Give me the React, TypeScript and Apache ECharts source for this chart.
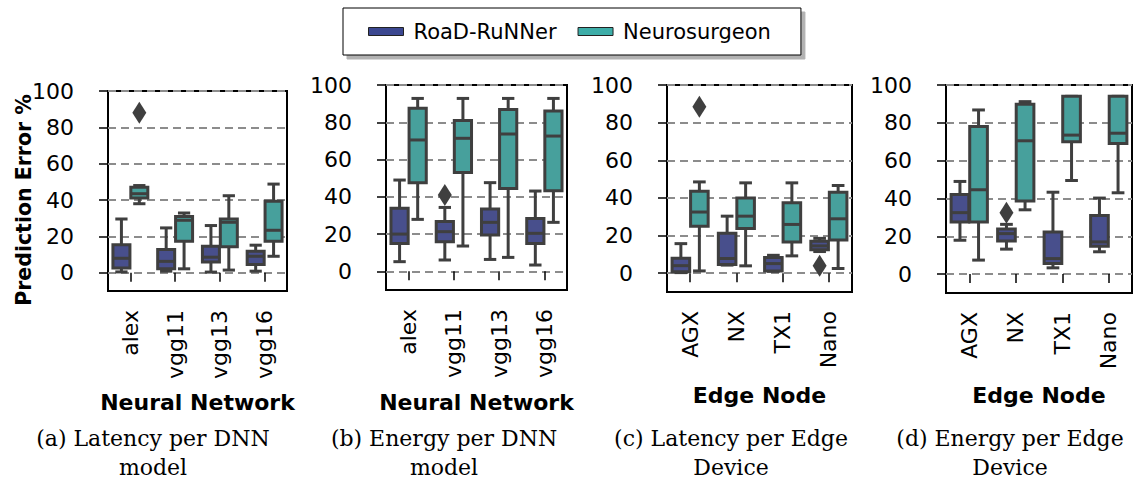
import { useEffect, useRef } from 'react';
import * as echarts from 'echarts';

// Categories
const dnnModels = ['alex', 'vgg11', 'vgg13', 'vgg16'];
const edgeNodes = ['AGX', 'NX', 'TX1', 'Nano'];
const yTicks = [0, 20, 40, 60, 80, 100];

// Box statistics per category: [lower whisker, Q1, median, Q3, upper whisker]
const latencyDnnRoad = [
  [0.5, 2.7, 8.0, 15.5, 29.6],
  [0.9, 2.2, 6.3, 12.8, 24.7],
  [0.4, 5.9, 8.6, 14.6, 26.0],
  [0.9, 4.6, 9.1, 11.9, 15.2],
];
const latencyDnnNeuro = [
  [38.0, 41.1, 43.5, 47.0, 48.0],
  [2.2, 17.4, 28.9, 31.0, 32.9],
  [1.5, 14.3, 27.8, 29.6, 42.4],
  [9.1, 17.4, 23.4, 39.3, 48.8],
];
const energyDnnRoad = [
  [5.2, 15.0, 20.0, 33.8, 49.0],
  [6.1, 15.9, 21.3, 26.7, 34.3],
  [6.4, 19.5, 26.3, 33.5, 47.6],
  [3.4, 15.0, 20.4, 28.4, 43.1],
];
const energyDnnNeuro = [
  [27.9, 47.6, 70.5, 87.5, 92.8],
  [13.6, 53.1, 71.4, 80.9, 92.8],
  [7.5, 44.5, 73.7, 86.9, 92.8],
  [26.3, 43.3, 72.6, 86.0, 92.8],
];
const latencyEdgeRoad = [
  [0.3, 0.8, 4.0, 7.9, 15.7],
  [4.3, 4.6, 7.8, 21.2, 30.3],
  [1.0, 1.2, 5.1, 8.3, 9.5],
  [11.5, 12.5, 14.5, 17.0, 18.5],
];
const latencyEdgeNeuro = [
  [1.2, 25.0, 32.5, 43.6, 48.5],
  [3.9, 23.8, 30.3, 40.0, 48.0],
  [9.2, 16.6, 25.9, 37.4, 48.0],
  [2.5, 17.6, 28.9, 43.0, 46.6],
];
const energyEdgeRoad = [
  [17.9, 27.5, 32.5, 42.1, 49.0],
  [13.2, 17.5, 21.4, 23.9, 26.3],
  [3.3, 5.6, 8.2, 22.3, 43.3],
  [11.8, 14.7, 17.0, 31.0, 40.2],
];
const energyEdgeNeuro = [
  [7.4, 27.5, 44.6, 78.0, 86.8],
  [34.0, 38.6, 70.5, 89.8, 91.2],
  [49.5, 70.0, 73.5, 94.0, 94.0],
  [43.0, 69.0, 74.5, 94.0, 94.0],
];

// Fliers: [category index, value]
const latencyDnnRoadFliers: number[][] = [];
const latencyDnnNeuroFliers = [[0, 88]];
const energyDnnRoadFliers = [[1, 41]];
const energyDnnNeuroFliers: number[][] = [];
const latencyEdgeRoadFliers = [[3, 4]];
const latencyEdgeNeuroFliers = [[0, 88.5]];
const energyEdgeRoadFliers = [[1, 32.5]];
const energyEdgeNeuroFliers: number[][] = [];

const ROAD = 'RoaD-RuNNer';
const NEURO = 'Neurosurgeon';

const EDGE = '#3f3f3f';
const ROAD_FILL = '#484f8c';
const NEURO_FILL = '#47a09c';
const ROAD_PATCH = '#3b4790';
const NEURO_PATCH = '#3dada8';
const FONT = 'DejaVu Sans';

const makeBoxRenderer = (side: number, fill: string) => (_params: any, api: any) => {
  const cat = api.value(0);
  const band = api.size([1, 0])[0];
  const cx = api.coord([cat, 0])[0] + side * band * 0.2;
  const w = band * 0.38;
  const capW = w * 0.72;
  const y = (v: number) => api.coord([cat, v])[1];
  const lo = y(api.value(1));
  const q1 = y(api.value(2));
  const med = y(api.value(3));
  const q3 = y(api.value(4));
  const hi = y(api.value(5));
  const line = { stroke: EDGE, lineWidth: 3 };
  return {
    type: 'group',
    children: [
      { type: 'line', shape: { x1: cx, y1: hi, x2: cx, y2: q3 }, style: line },
      { type: 'line', shape: { x1: cx, y1: q1, x2: cx, y2: lo }, style: line },
      { type: 'line', shape: { x1: cx - capW / 2, y1: hi, x2: cx + capW / 2, y2: hi }, style: line },
      { type: 'line', shape: { x1: cx - capW / 2, y1: lo, x2: cx + capW / 2, y2: lo }, style: line },
      {
        type: 'rect',
        shape: { x: cx - w / 2, y: q3, width: w, height: q1 - q3 },
        style: { fill, stroke: EDGE, lineWidth: 3 },
      },
      { type: 'line', shape: { x1: cx - w / 2, y1: med, x2: cx + w / 2, y2: med }, style: line },
    ],
  };
};

const makeFlierRenderer = (side: number) => (_params: any, api: any) => {
  const cat = api.value(0);
  const band = api.size([1, 0])[0];
  const p = api.coord([cat, api.value(1)]);
  const cx = p[0] + side * band * 0.2;
  const cy = p[1];
  return {
    type: 'polygon',
    shape: { points: [[cx, cy - 11], [cx + 7, cy], [cx, cy + 11], [cx - 7, cy]] },
    style: { fill: EDGE },
  };
};

const panels = [
  {
    grid: { left: 108, top: 91, width: 179, height: 200 },
    categories: dnnModels,
    road: latencyDnnRoad,
    neuro: latencyDnnNeuro,
    roadFliers: latencyDnnRoadFliers,
    neuroFliers: latencyDnnNeuroFliers,
    xName: 'Neural Network',
    nameGap: 100,
    caption: '(a) Latency per DNN\nmodel',
    captionX: 153,
  },
  {
    grid: { left: 386, top: 85, width: 181, height: 205 },
    categories: dnnModels,
    road: energyDnnRoad,
    neuro: energyDnnNeuro,
    roadFliers: energyDnnRoadFliers,
    neuroFliers: energyDnnNeuroFliers,
    xName: 'Neural Network',
    nameGap: 101,
    caption: '(b) Energy per DNN\nmodel',
    captionX: 444,
  },
  {
    grid: { left: 667, top: 85, width: 185, height: 207 },
    categories: edgeNodes,
    road: latencyEdgeRoad,
    neuro: latencyEdgeNeuro,
    roadFliers: latencyEdgeRoadFliers,
    neuroFliers: latencyEdgeNeuroFliers,
    xName: 'Edge Node',
    nameGap: 92,
    caption: '(c) Latency per Edge\nDevice',
    captionX: 731,
  },
  {
    grid: { left: 946, top: 85, width: 186, height: 208 },
    categories: edgeNodes,
    road: energyEdgeRoad,
    neuro: energyEdgeNeuro,
    roadFliers: energyEdgeRoadFliers,
    neuroFliers: energyEdgeNeuroFliers,
    xName: 'Edge Node',
    nameGap: 91,
    caption: '(d) Energy per Edge\nDevice',
    captionX: 1010,
  },
];

function buildOption() {
  const grid = panels.map((p) => ({
    ...p.grid,
    show: true,
    borderColor: '#000',
    borderWidth: 2,
    backgroundColor: 'transparent',
  }));

  const xAxis = panels.map((p, i) => ({
    type: 'category',
    gridIndex: i,
    data: p.categories,
    name: p.xName,
    nameLocation: 'middle',
    nameGap: p.nameGap,
    nameTextStyle: { fontFamily: FONT, fontWeight: 'bold', fontSize: 22, color: '#000' },
    axisLine: { show: false },
    axisTick: { show: true, alignWithLabel: true, length: 9, lineStyle: { color: '#000', width: 1.5 } },
    axisLabel: { rotate: 90, margin: 19, fontFamily: FONT, fontSize: 22, color: '#000' },
    splitLine: { show: false },
  }));

  const yAxis = panels.map((_p, i) => ({
    type: 'value',
    gridIndex: i,
    min: -10,
    max: 100,
    axisLine: { show: false },
    axisTick: {
      show: true,
      length: 9,
      customValues: yTicks,
      lineStyle: { color: '#000', width: 1.5 },
    },
    axisLabel: {
      formatter: (v: number) => (yTicks.includes(v) ? String(v) : ''),
      margin: 34,
      fontFamily: FONT,
      fontSize: 22,
      color: '#000',
    },
    splitLine: {
      show: true,
      lineStyle: { color: '#8c8c8c', width: 1.8, type: [8, 5] },
    },
  }));

  const series: any[] = [];
  panels.forEach((p, i) => {
    series.push({
      type: 'custom',
      name: ROAD,
      xAxisIndex: i,
      yAxisIndex: i,
      renderItem: makeBoxRenderer(-1, ROAD_FILL),
      encode: { x: 0, y: [1, 2, 3, 4, 5] },
      data: p.road.map((s, k) => [k, ...s]),
      z: 3,
    });
    series.push({
      type: 'custom',
      name: NEURO,
      xAxisIndex: i,
      yAxisIndex: i,
      renderItem: makeBoxRenderer(1, NEURO_FILL),
      encode: { x: 0, y: [1, 2, 3, 4, 5] },
      data: p.neuro.map((s, k) => [k, ...s]),
      z: 3,
    });
    if (p.roadFliers.length) {
      series.push({
        type: 'custom',
        name: ROAD,
        xAxisIndex: i,
        yAxisIndex: i,
        renderItem: makeFlierRenderer(-1),
        encode: { x: 0, y: 1 },
        data: p.roadFliers,
        z: 4,
      });
    }
    if (p.neuroFliers.length) {
      series.push({
        type: 'custom',
        name: NEURO,
        xAxisIndex: i,
        yAxisIndex: i,
        renderItem: makeFlierRenderer(1),
        encode: { x: 0, y: 1 },
        data: p.neuroFliers,
        z: 4,
      });
    }
  });

  const graphic: any[] = [
    {
      type: 'text',
      x: 23.5,
      y: 200,
      rotation: Math.PI / 2,
      style: {
        text: 'Prediction Error %',
        fontFamily: FONT,
        fontWeight: 'bold',
        fontSize: 20.5,
        fill: '#000',
        align: 'center',
        verticalAlign: 'middle',
      },
    },
    ...panels.map((p) => ({
      type: 'text',
      x: p.captionX,
      y: 452.5,
      style: {
        text: p.caption,
        fontFamily: 'DejaVu Serif',
        fontSize: 22,
        lineHeight: 29,
        fill: '#000',
        align: 'center',
        verticalAlign: 'middle',
      },
    })),
  ];

  return {
    animation: false,
    backgroundColor: '#fff',
    legend: {
      left: 343,
      top: 8,
      selectedMode: false,
      data: [
        { name: ROAD, icon: 'rect', itemStyle: { color: ROAD_PATCH, borderColor: '#222', borderWidth: 1 } },
        { name: NEURO, icon: 'rect', itemStyle: { color: NEURO_PATCH, borderColor: '#222', borderWidth: 1 } },
      ],
      itemWidth: 35,
      itemHeight: 8,
      itemGap: 21,
      padding: [13, 30, 13, 25],
      backgroundColor: '#fff',
      borderColor: '#000',
      borderWidth: 1,
      shadowColor: 'rgba(0,0,0,0.3)',
      shadowOffsetX: 4,
      shadowOffsetY: 4,
      shadowBlur: 0,
      textStyle: { fontFamily: FONT, fontSize: 21, color: '#000', padding: [0, 0, 0, 5] },
    },
    grid,
    xAxis,
    yAxis,
    series,
    graphic,
  };
}

export default function App() {
  const ref = useRef<HTMLDivElement>(null);
  useEffect(() => {
    if (!ref.current) return;
    const chart = echarts.init(ref.current, undefined, { renderer: 'svg' });
    chart.setOption(buildOption() as any);
    return () => chart.dispose();
  }, []);
  return (
    <div
      ref={ref}
      style={{ position: 'fixed', left: 0, top: 0, width: 1133, height: 483, background: '#fff' }}
    />
  );
}
